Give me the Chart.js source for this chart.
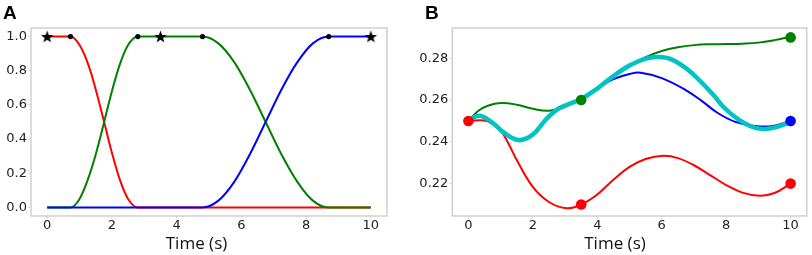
<!DOCTYPE html>
<html><head><meta charset="utf-8">
<script src="https://cdn.jsdelivr.net/npm/chart.js@4/dist/chart.umd.min.js"></script>
<style>
html,body{margin:0;padding:0;background:#fff;width:812px;height:255px;overflow:hidden;position:relative}
canvas{position:absolute;top:0}
#ca{left:0}
#cb{left:400px}
.lbl{position:absolute;font-family:"Liberation Sans",Arial,sans-serif;font-weight:bold;font-size:19px;line-height:1;color:#000}
.xt{position:absolute;font-family:"Open Sans",sans-serif;font-size:17px;line-height:1;white-space:nowrap;transform:translateX(-50%);color:#111}
</style></head><body>
<canvas id="ca" width="400" height="255"></canvas>
<canvas id="cb" width="412" height="255"></canvas>
<div class="lbl" style="left:3px;top:2.5px">A</div>
<div class="lbl" style="left:425px;top:2.5px">B</div>
<div class="xt" style="left:196.5px;top:234px">Time (s)</div>
<div class="xt" style="left:615px;top:234px">Time (s)</div>
<script>
// ---- shared tick labels ----
const xTicks = [0, 2, 4, 6, 8, 10];
const aYTicks = [0.0, 0.2, 0.4, 0.6, 0.8, 1.0];
const bYTicks = [0.22, 0.24, 0.26, 0.28];

// ---- Panel A series ----
const aRedX   = [0, 0.72, 1.0, 1.3, 1.5, 1.76, 2.0, 2.25, 2.5, 2.8, 10];
const aRedY   = [1, 1, 0.95, 0.82, 0.69, 0.5, 0.32, 0.16, 0.05, 0, 0];
const aGreenX = [0, 0.72, 1.0, 1.25, 1.5, 1.76, 2.0, 2.25, 2.5, 2.8, 4.8, 5.29, 5.78, 6.26, 6.75, 7.24, 7.73, 8.21, 8.7, 10];
const aGreenY = [0, 0, 0.05, 0.16, 0.31, 0.5, 0.68, 0.84, 0.95, 1, 1, 0.96, 0.85, 0.69, 0.5, 0.31, 0.15, 0.04, 0, 0];
const aBlueX  = [0, 4.8, 5.29, 5.78, 6.26, 6.75, 7.24, 7.73, 8.21, 8.7, 10];
const aBlueY  = [0, 0, 0.04, 0.15, 0.31, 0.5, 0.69, 0.85, 0.96, 1, 1];
const aDotX   = [0.72, 2.8, 4.8, 8.7];
const aDotY   = [1, 1, 1, 1];
const aStarX  = [0, 3.5, 10];
const aStarY  = [1, 1, 1];

// ---- Panel B series ----
const bRedX   = [0, 0.5, 0.75, 1.0, 1.25, 1.5, 2.0, 2.5, 3.05, 3.5, 4.0, 4.5, 5.0, 5.5, 6.05, 6.5, 7.0, 7.5, 8.0, 8.5, 9.05, 9.5, 10];
const bRedY   = [0.25, 0.2502, 0.2485, 0.2455, 0.239, 0.2313, 0.2184, 0.2112, 0.2082, 0.21, 0.2148, 0.2218, 0.228, 0.2318, 0.2333, 0.2322, 0.2288, 0.2241, 0.2193, 0.2157, 0.2142, 0.2155, 0.22];
const bGreenX = [0, 0.3, 0.6, 1.0, 1.5, 2.0, 2.5, 3.0, 3.5, 4.0, 4.5, 5.0, 5.5, 6.0, 6.5, 7.0, 7.5, 8.0, 8.5, 9.0, 9.5, 10];
const bGreenY = [0.25, 0.2548, 0.2573, 0.2586, 0.2578, 0.2558, 0.2549, 0.2568, 0.2606, 0.2655, 0.2712, 0.2765, 0.2805, 0.2835, 0.2853, 0.2863, 0.2867, 0.2868, 0.287, 0.2875, 0.2887, 0.2903];
const bBlueX  = [0, 0.35, 0.7, 1.0, 1.3, 1.6, 2.0, 2.4, 2.75, 3.1, 3.5, 4.0, 4.5, 5.0, 5.35, 6.0, 6.72, 7.25, 7.74, 8.26, 8.8, 9.4, 10];
const bBlueY  = [0.2505, 0.2525, 0.2497, 0.2457, 0.2423, 0.2408, 0.2435, 0.2506, 0.2554, 0.258, 0.2605, 0.2655, 0.27, 0.2725, 0.2731, 0.2705, 0.265, 0.2595, 0.2538, 0.2497, 0.2478, 0.2475, 0.25];
const bCyanX  = [0, 0.35, 0.7, 1.0, 1.3, 1.6, 2.0, 2.4, 2.75, 3.1, 3.5, 4.0, 4.5, 5.0, 5.5, 5.9, 6.3, 6.8, 7.2, 7.6, 7.95, 8.4, 8.9, 9.4, 10];
const bCyanY  = [0.2505, 0.2525, 0.2497, 0.2457, 0.2423, 0.2408, 0.2435, 0.2506, 0.2554, 0.258, 0.2605, 0.2655, 0.2715, 0.2765, 0.2798, 0.2806, 0.2795, 0.2747, 0.269, 0.2625, 0.2562, 0.2505, 0.2467, 0.2465, 0.2495];
const bDotX   = [0, 3.5, 3.5, 10, 10, 10];
const bDotY   = [0.25, 0.21, 0.26, 0.29, 0.25, 0.22];
const bDotC   = ['#ff0000', '#ff0000', '#008000', '#008000', '#0000ff', '#ff0000'];

const pts = (xs, ys) => xs.map((x, i) => ({x: x, y: ys[i]}));

// filled star marker
function starImage(size) {
  const c = document.createElement('canvas');
  c.width = size; c.height = size;
  const g = c.getContext('2d');
  const cx = size / 2, cy = size / 2 + 0.6, R = size / 2, r = R * 0.42;
  g.beginPath();
  for (let i = 0; i < 10; i++) {
    const ang = -Math.PI / 2 + i * Math.PI / 5;
    const rad = i % 2 === 0 ? R : r;
    const px = cx + rad * Math.cos(ang), py = cy + rad * Math.sin(ang);
    if (i === 0) g.moveTo(px, py); else g.lineTo(px, py);
  }
  g.closePath();
  g.fillStyle = '#000';
  g.fill();
  return c;
}

const boxPlugin = {
  id: 'box',
  beforeDatasetsDraw(chart) {
    const a = chart.chartArea, ctx = chart.ctx;
    ctx.save();
    ctx.strokeStyle = '#cfcfcf';
    ctx.lineWidth = 1.5;
    ctx.strokeRect(a.left, a.top, a.right - a.left, a.bottom - a.top);
    ctx.restore();
  }
};

function lineDs(data, color, width, order, mode) {
  return {type: 'line', data: data, borderColor: color, borderWidth: width, pointRadius: 0,
          fill: false, cubicInterpolationMode: mode || 'monotone', tension: 0.4, order: order, clip: 6};
}

function makeScales(yTicksArr, yMin, yMax, yWidth, yFmt) {
  const tickFont = {family: 'DejaVu Sans', size: 13};
  return {
    x: {
      type: 'linear', min: -0.5, max: 10.5,
      afterBuildTicks: s => { s.ticks = xTicks.map(v => ({value: v})); },
      afterFit: s => { s.height = 39; },
      ticks: {font: tickFont, color: '#222', padding: -1, maxRotation: 0, autoSkip: false,
              callback: v => String(v)},
      grid: {drawOnChartArea: false, drawTicks: true, tickLength: 3, color: '#dddddd'},
      border: {display: false}
    },
    y: {
      type: 'linear', min: yMin, max: yMax,
      afterBuildTicks: s => { s.ticks = yTicksArr.map(v => ({value: v})); },
      afterFit: s => { s.width = yWidth; },
      ticks: {font: tickFont, color: '#222', padding: 1, autoSkip: false, callback: yFmt},
      grid: {drawOnChartArea: false, drawTicks: true, tickLength: 3, color: '#dddddd'},
      border: {display: false}
    }
  };
}

const common = {
  responsive: false, animation: false, events: [],
  plugins: {legend: {display: false}, tooltip: {enabled: false}, title: {display: false}}
};

new Chart(document.getElementById('ca'), {
  type: 'line',
  data: {datasets: [
    lineDs(pts(aRedX, aRedY), '#ff0000', 2, 3),
    lineDs(pts(aGreenX, aGreenY), '#008000', 2, 2),
    lineDs(pts(aBlueX, aBlueY), '#0000ff', 2, 1),
    {type: 'line', data: pts(aDotX, aDotY), showLine: false, pointRadius: 2.6, pointBorderWidth: 0,
     pointBackgroundColor: '#000', borderColor: '#000', order: 0, clip: 10},
    {type: 'line', data: pts(aStarX, aStarY), showLine: false, pointStyle: starImage(13), pointRadius: 6,
     order: 0, clip: 10}
  ]},
  options: Object.assign({}, common, {
    layout: {padding: {left: 0, top: 28, right: 13, bottom: 0}},
    scales: makeScales(aYTicks, -0.05, 1.05, 31, v => Number(v).toFixed(1))
  }),
  plugins: [boxPlugin]
});

new Chart(document.getElementById('cb'), {
  type: 'line',
  data: {datasets: [
    lineDs(pts(bRedX, bRedY), '#ff0000', 2, 4, 'default'),
    lineDs(pts(bGreenX, bGreenY), '#008000', 2, 3, 'default'),
    lineDs(pts(bBlueX, bBlueY), '#0000ff', 2, 2, 'default'),
    lineDs(pts(bCyanX, bCyanY), '#00c4c4', 4.5, 1, 'default'),
    {type: 'line', data: pts(bDotX, bDotY), showLine: false, pointRadius: 5.3, pointBorderWidth: 0,
     pointBackgroundColor: bDotC, borderColor: bDotC, order: 0, clip: 10}
  ]},
  options: Object.assign({}, common, {
    layout: {padding: {left: 0, top: 28, right: 3, bottom: 0}},
    scales: makeScales(bYTicks, 0.2045, 0.2945, 52.3, v => Number(v).toFixed(2))
  }),
  plugins: [boxPlugin]
});
</script>
</body></html>
